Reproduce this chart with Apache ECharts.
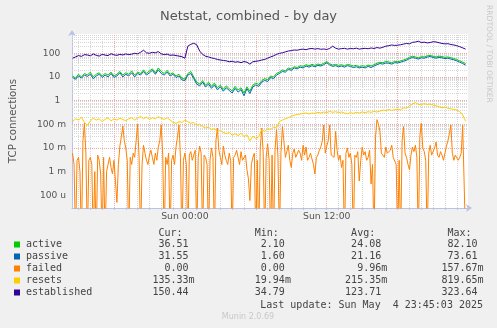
<!DOCTYPE html>
<html>
<head>
<meta charset="utf-8">
<script src="https://cdn.jsdelivr.net/npm/echarts@6/dist/echarts.min.js"></script>
<style>
  html, body { margin: 0; padding: 0; background: #f0f0f0; }
  #chart { width: 497px; height: 328px; }
</style>
</head>
<body>
<div id="chart"></div>
<script>
// Samples every 15 minutes, hours relative to Sun 00:00 (Sat 14:30 .. Sun 23:45)
const startHour = -9.5;
const stepHours = 0.25;
// failed connections are kept at 7.5 minute resolution
const failedStepHours = 0.125;

const active = [
  11, 9, 13, 10, 14, 12, 16, 10, 13, 15,
  11, 14, 12, 16, 11, 13, 17, 12, 15, 13,
  18, 12, 16, 14, 20, 14, 18, 22, 15, 24,
  17, 14, 19, 13, 15, 11, 13, 9, 8, 14,
  17, 10, 6, 5, 7, 4.5, 6, 4, 5.5, 3.5,
  4.5, 3, 4.2, 3.2, 2.6, 4, 2.8, 3.5, 2.1, 3.8,
  2.5, 4.5, 5.5, 4.8, 7, 8.5, 7.5, 11, 10, 14,
  16, 20, 18, 24, 22, 27, 25, 30, 28, 33,
  30, 34, 31, 35, 33, 38, 45, 36, 32, 34,
  31, 33, 30, 34, 32, 29, 31, 27, 30, 28,
  32, 29, 33, 38, 42, 40, 45, 43, 40, 46,
  44, 48, 52, 58, 68, 75, 70, 65, 72, 70,
  78, 82.1, 74, 70, 76, 72, 68, 70, 65, 60,
  55, 48, 42, 36.51
];

const passive = [
  9.5, 8, 11, 9, 12, 10.5, 13, 8.5, 11, 13,
  9.5, 12, 10, 14, 9.5, 11, 15, 10, 13, 11,
  15, 10, 14, 12, 17, 12, 15, 19, 13, 20,
  14, 12, 16, 11, 13, 9.5, 11, 7.5, 7, 12,
  14, 8.5, 5, 4.2, 6, 3.8, 5, 3.3, 4.6, 2.9,
  3.8, 2.5, 3.5, 2.7, 2.1, 3.3, 2.3, 2.9, 1.6, 3.2,
  2, 3.8, 4.6, 4, 6, 7.2, 6.4, 9.5, 8.5, 12,
  14, 17, 16, 21, 19, 24, 22, 26, 24, 29,
  26, 30, 27, 31, 29, 33, 40, 32, 28, 30,
  27, 29, 26, 30, 28, 25, 27, 24, 26, 24,
  28, 25, 29, 33, 37, 35, 39, 38, 35, 40,
  39, 42, 46, 51, 60, 66, 62, 57, 64, 62,
  69, 73.61, 66, 62, 67, 64, 60, 62, 57, 53,
  48, 42, 37, 31.55
];

const failed = [
  0.006, 0.002, 0, 0.003, 0.004, 0.001, 0, 0.02, 0.11, 0.006,
  0, 0.003, 0.004, 0.002, 0, 0.001, 0, 0.005, 0.003, 0.0008,
  0, 0.004, 0, 0.001, 0.002, 0.004, 0.0015, 0.0008, 0.003, 0.0004,
  0.00005, 0.002, 0.012, 0.03, 0.085, 0.02, 0.01, 0.003, 0, 0.004,
  0.002, 0.006, 0.004, 0.02, 0.1, 0.004, 0, 0.002, 0.013, 0.006,
  0.003, 0.002, 0.005, 0.008, 0.004, 0.002, 0.006, 0.003, 0.011, 0.02,
  0.094, 0.005, 0, 0.004, 0.002, 0.006, 0, 0.003, 0.005, 0.002,
  0.011, 0.03, 0.094, 0.004, 0, 0.003, 0.006, 0.002, 0, 0.005,
  0.007, 0.003, 0.005, 0.008, 0, 0.004, 0.012, 0.006, 0, 0.005,
  0.004, 0.002, 0, 0.003, 0.01, 0.004, 0, 0.02, 0.07, 0.008,
  0.004, 0.002, 0.012, 0.005, 0.003, 0.002, 0.006, 0.003, 0, 0.004,
  0.005, 0.008, 0.004, 0.002, 0.007, 0.003, 0.003, 0.005, 0.0012, 0.0005,
  0.00006, 0.002, 0.004, 0.006, 0, 0.003, 0, 0.01, 0.07, 0.006,
  0, 0.004, 0.015, 0.003, 0, 0.005, 0, 0.008, 0.06, 0.004,
  0, 0.006, 0.08, 0.02, 0.004, 0.007, 0.013, 0.003, 0.0015, 0.006,
  0.009, 0.004, 0.004, 0.008, 0.006, 0.003, 0.013, 0.005, 0.011, 0.003,
  0.004, 0.006, 0.007, 0.002, 0.0008, 0.004, 0.005, 0.008, 0.011, 0.02,
  0.094, 0.006, 0.012, 0.02, 0.094, 0.005, 0.006, 0.004, 0.05, 0.008,
  0.003, 0.005, 0.0015, 0.003, 0, 0.006, 0.01, 0.004, 0.006, 0.002,
  0, 0.005, 0.004, 0.007, 0.0004, 0.003, 0.011, 0.005, 0.007, 0.003,
  0.004, 0.008, 0.0003, 0.002, 0, 0.03, 0.15767, 0.1, 0.05, 0.006,
  0.005, 0.004, 0.011, 0.006, 0.005, 0.008, 0.013, 0.004, 0.004, 0.002,
  0, 0.003, 0, 0.02, 0.08, 0.006, 0.004, 0.002, 0.0012, 0.005,
  0.011, 0.007, 0.013, 0.004, 0, 0.03, 0.11, 0.01, 0.007, 0.003,
  0, 0.006, 0.013, 0.005, 0.006, 0.01, 0.018, 0.005, 0.004, 0.007,
  0.005, 0.003, 0.006, 0.012, 0.02, 0.04, 0.094, 0.006, 0.003, 0.005,
  0.005, 0.003, 0.004, 0.006, 0.09, 0.08, 0
];

const resets = [
  0.13, 0.17, 0.15, 0.2, 0.12, 0.09, 0.14, 0.18, 0.15, 0.17,
  0.13, 0.16, 0.19, 0.14, 0.17, 0.15, 0.18, 0.16, 0.14, 0.17,
  0.19, 0.15, 0.18, 0.22, 0.17, 0.2, 0.16, 0.19, 0.17, 0.21,
  0.18, 0.16, 0.19, 0.15, 0.12, 0.11, 0.13, 0.12, 0.15, 0.13,
  0.11, 0.12, 0.09, 0.1, 0.08, 0.07, 0.075, 0.06, 0.065, 0.05,
  0.055, 0.045, 0.04, 0.045, 0.035, 0.04, 0.033, 0.042, 0.03, 0.036,
  0.01994, 0.032, 0.025, 0.03, 0.06, 0.05, 0.065, 0.06, 0.075, 0.07,
  0.13, 0.15, 0.17, 0.19, 0.22, 0.24, 0.26, 0.27, 0.29, 0.3,
  0.27, 0.3, 0.29, 0.32, 0.3, 0.33, 0.31, 0.35, 0.32, 0.34,
  0.31, 0.33, 0.3, 0.28, 0.31, 0.29, 0.32, 0.3, 0.33, 0.31,
  0.34, 0.32, 0.35, 0.33, 0.36, 0.4, 0.38, 0.42, 0.39, 0.41,
  0.44, 0.4, 0.5, 0.48, 0.6, 0.72, 0.8197, 0.7, 0.66, 0.75,
  0.68, 0.72, 0.65, 0.6, 0.55, 0.5, 0.52, 0.48, 0.45, 0.42,
  0.4, 0.34, 0.25, 0.1353
];

const established = [
  62, 70, 80, 74, 88, 85, 78, 94, 82, 76,
  90, 84, 80, 96, 86, 82, 90, 85, 94, 88,
  92, 100, 95, 110, 135, 105, 100, 110, 105, 118,
  95, 88, 92, 82, 85, 80, 76, 72, 62, 200,
  240, 265, 230, 125, 90, 75, 70, 64, 60, 55,
  52, 50, 48, 44, 46, 42, 44, 40, 45, 42,
  34.79, 44, 46, 48, 52, 55, 62, 70, 78, 90,
  100, 105, 115, 125, 130, 138, 135, 145, 150, 142,
  155, 160, 150, 158, 148, 152, 145, 160, 200, 165,
  150, 158, 162, 150, 160, 155, 165, 150, 158, 162,
  155, 168, 160, 175, 165, 180, 200, 210, 225, 215,
  220, 230, 245, 260, 250, 290, 300, 323.64, 285, 295,
  275, 285, 310, 300, 280, 260, 250, 255, 235, 225,
  210, 190, 170, 150.44
];

// Legend table
const seriesNames = ['active', 'passive', 'failed', 'resets', 'established'];
const seriesColors = ['#00CC00', '#0066B3', '#FF8000', '#FFCC00', '#330099'];
const curText = ['36.51 ', '31.55 ', '0.00 ', '135.33m', '150.44 '];
const minText = ['2.10 ', '1.60 ', '0.00 ', '19.94m', '34.79 '];
const avgText = ['24.08 ', '21.16 ', '9.96m', '215.35m', '123.71 '];
const maxText = ['82.10 ', '73.61 ', '157.67m', '819.65m', '323.64 '];
const lastUpdate = 'Last update: Sun May  4 23:45:03 2025';

// Axis ticks
const yTickValues = [100, 10, 1, 0.1, 0.01, 0.001, 0.0001];
const yTickLabels = ['100  ', '10  ', '1  ', '100 m', '10 m', '1 m', '100 u'];
const xLabelHours = [0, 12];
const xLabelText = ['Sun 00:00', 'Sun 12:00'];

const yMin = 2.9e-5, yMax = 654;
const xMin = -9.55, xMax = 23.95;
const zeroFloor = 1e-6; // zero values sit below the log axis floor

const seriesData = [active, passive, failed, resets, established];
const seriesSteps = [stepHours, stepHours, failedStepHours, stepHours, stepHours];

// Grid lines: hourly / 6-hourly verticals, log decades with 2..9 minors
const minorY = [], majorY = [], minorX = [], majorX = [];
for (let e = -5; e <= 2; e++) {
  const base = Math.pow(10, e);
  if (base >= yMin && base <= yMax) majorY.push(base);
  for (let k = 2; k <= 9; k++) {
    const v = k * base;
    if (v >= yMin && v <= yMax) minorY.push(v);
  }
}
for (let h = Math.ceil(xMin); h <= Math.floor(xMax); h++) {
  if (h % 6 === 0) majorX.push(h); else minorX.push(h);
}

const dotted = (color) => ({ color: color, width: 1, type: [1, 1] });
const gridMarks = [].concat(
  minorY.map(v => ({ yAxis: v, lineStyle: dotted('#d6d6d6') })),
  minorX.map(v => ({ xAxis: v, lineStyle: dotted('#d6d6d6') })),
  majorY.map(v => ({ yAxis: v, lineStyle: dotted('#f2a8a8') })),
  majorX.map(v => ({ xAxis: v, lineStyle: dotted('#f2a8a8') }))
);

const series = [{
  type: 'line',
  data: [],
  silent: true,
  markLine: {
    z: 1,
    silent: true,
    symbol: 'none',
    label: { show: false },
    animation: false,
    data: gridMarks
  }
}];
seriesData.forEach((arr, s) => {
  series.push({
    name: seriesNames[s],
    type: 'line',
    z: 3 + s,
    showSymbol: false,
    symbol: 'none',
    lineStyle: { width: 1, color: seriesColors[s] },
    itemStyle: { color: seriesColors[s] },
    data: arr.map((v, i) => [startHour + i * seriesSteps[s], v > 0 ? v : zeroFloor])
  });
});

// Legend block drawn as monospaced rows
const mono = '10px "DejaVu Sans Mono"';
const graphics = [];
const header = ''.padEnd(18) + 'Cur:'.padStart(8) + 'Min:'.padStart(16) + 'Avg:'.padStart(16) + 'Max:'.padStart(16);
graphics.push({ type: 'text', x: 26, y: 233.5, style: { text: header, font: mono, fill: '#444', textVerticalAlign: 'middle', verticalAlign: 'middle' } });
seriesNames.forEach((name, i) => {
  const y = 244.5 + i * 12;
  graphics.push({ type: 'rect', shape: { x: 14, y: y - 3, width: 6, height: 6 }, style: { fill: seriesColors[i] } });
  const line = name.padEnd(18) + curText[i].padStart(10) + minText[i].padStart(16) + avgText[i].padStart(16) + maxText[i].padStart(16);
  graphics.push({ type: 'text', x: 26, y: y, style: { text: line, font: mono, fill: '#444', textVerticalAlign: 'middle', verticalAlign: 'middle' } });
});
graphics.push({ type: 'text', x: 483, y: 305, style: { text: lastUpdate, font: mono, fill: '#444', textAlign: 'right', align: 'right', textVerticalAlign: 'middle', verticalAlign: 'middle' } });
graphics.push({ type: 'text', x: 248, y: 317, style: { text: 'Munin 2.0.69', font: '8px "DejaVu Sans"', fill: '#c8c8c8', textAlign: 'center', align: 'center', textVerticalAlign: 'middle', verticalAlign: 'middle' } });
graphics.push({ type: 'text', x: 489, y: 5, rotation: -Math.PI / 2, style: { text: 'RRDTOOL / TOBI OETIKER', font: '7.6px "DejaVu Sans"', fill: '#c8c8c8', textAlign: 'left', align: 'left', textVerticalAlign: 'middle', verticalAlign: 'middle' } });

const chart = echarts.init(document.getElementById('chart'), null, { renderer: 'canvas' });
chart.setOption({
  animation: false,
  backgroundColor: '#f0f0f0',
  title: {
    text: 'Netstat, combined - by day',
    left: 'center',
    top: 5,
    textStyle: { fontFamily: 'DejaVu Sans', fontSize: 13, fontWeight: 'normal', color: '#555' }
  },
  grid: {
    left: 66, right: 29, top: 34, bottom: 120,
    show: true, backgroundColor: '#ffffff', borderWidth: 0
  },
  xAxis: {
    type: 'value',
    min: xMin, max: xMax,
    axisLine: { show: true, onZero: false, lineStyle: { color: '#b8c2ea', width: 1 }, symbol: ['none', 'arrow'], symbolSize: [6, 6], symbolOffset: [0, 4] },
    axisTick: { show: true, length: 2, inside: false, customValues: minorX.concat(majorX), lineStyle: { color: '#c4c4c4' } },
    axisLabel: {
      customValues: xLabelHours,
      formatter: v => { const k = xLabelHours.indexOf(v); return k >= 0 ? xLabelText[k] : ''; },
      fontFamily: 'DejaVu Sans', fontSize: 9.3, color: '#555', margin: 4
    },
    splitLine: { show: false }
  },
  yAxis: {
    type: 'log',
    logBase: 10,
    min: yMin, max: yMax,
    name: 'TCP connections',
    nameLocation: 'middle',
    nameGap: 54,
    nameRotate: 90,
    nameTextStyle: { fontFamily: 'DejaVu Sans', fontSize: 10.3, color: '#555' },
    axisLine: { show: true, onZero: false, lineStyle: { color: '#b8c2ea', width: 1 }, symbol: ['none', 'arrow'], symbolSize: [6, 6], symbolOffset: [0, 4] },
    axisTick: { show: false },
    splitLine: { show: false },
    minorSplitLine: { show: false },
    axisLabel: {
      showMinLabel: false, showMaxLabel: false,
      formatter: v => {
        const lg = Math.log10(v);
        const e = Math.round(lg);
        if (Math.abs(lg - e) > 1e-6) return '';
        const k = yTickValues.findIndex(t => Math.abs(Math.log10(t) - e) < 1e-6);
        return k >= 0 ? yTickLabels[k] : '';
      },
      fontFamily: 'DejaVu Sans', fontSize: 9.1, color: '#555', margin: 6
    }
  },
  series: series,
  graphic: graphics
});
</script>
</body>
</html>
